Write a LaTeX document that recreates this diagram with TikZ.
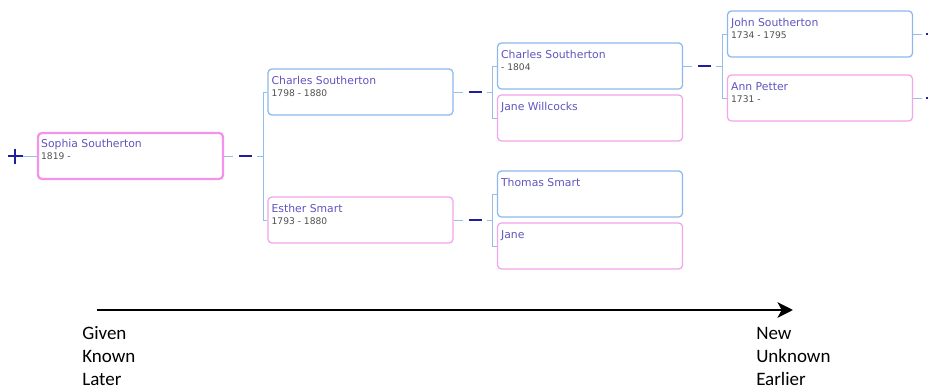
\documentclass[tikz,border=0pt]{standalone}
\usepackage{fontspec}
\setmainfont{DejaVu Sans}
\newfontfamily\labelfont{Carlito}
\usetikzlibrary{calc,arrows.meta}

\definecolor{boxblue}{RGB}{140,185,235}
\definecolor{boxpink}{RGB}{242,165,232}
\definecolor{linkblue}{RGB}{150,190,232}
\definecolor{barblue}{RGB}{30,30,160}
\definecolor{nameblue}{RGB}{95,85,190}
\definecolor{dategrey}{RGB}{80,80,80}

\tikzset{
  box/.style={draw, rounded corners=2.8pt, line width=0.9pt, fill=white,
    minimum width=4.625cm, minimum height=1.15cm, inner sep=0pt},
  male/.style={box, draw=boxblue},
  female/.style={box, draw=boxpink},
  nametext/.style={anchor=base west, inner sep=0pt, text=nameblue,
    font=\fontsize{7.7}{9}\selectfont},
  datetext/.style={anchor=base west, inner sep=0pt, text=dategrey,
    font=\fontsize{6.5}{8}\selectfont},
  link/.style={draw=linkblue, line width=0.7pt},
  bar/.style={draw=barblue, line width=2pt},
  axislabel/.style={anchor=base west, inner sep=0pt,
    font=\labelfont\fontsize{13.5}{16}\selectfont},
}

% id, style, x, y, name, dates
\newcommand\person[6]{%
  \node[#2] (#1) at (#3,#4) {};
  \node[nametext] (#1-n) at ($(#1.north west)+(4,16)$) {#5};
  \node[datetext] (#1-d) at ($(#1.north west)+(4,28)$) {#6};
}

\begin{document}
\begin{tikzpicture}[x=0.025cm, y=-0.025cm]
  \useasboundingbox (0,0) rectangle (928,388);

  % the tree
  \person{sophia}{female, line width=1.6pt, draw=boxpink!90!magenta}{130.5}{156}{Sophia Southerton}{1819 -}
  \person{charlesA}{male}{360.5}{92}{Charles Southerton}{1798 - 1880}
  \person{esther}{female}{360.5}{220}{Esther Smart}{1793 - 1880}
  \person{charlesB}{male}{590}{66}{Charles Southerton}{- 1804}
  \person{jane1}{female}{590}{118}{Jane Willcocks}{}
  \person{thomas}{male}{590}{194}{Thomas Smart}{}
  \person{jane2}{female}{590}{246}{Jane}{}
  \person{john}{male}{820}{34}{John Southerton}{1734 - 1795}
  \person{ann}{female}{820}{98}{Ann Petter}{1731 -}

  \foreach \c/\f/\m in {sophia/charlesA/esther, charlesA/charlesB/jane1,
                        esther/thomas/jane2, charlesB/john/ann} {
    \draw[link] (\c.east) -- ++(9,0);
    \draw[bar] ($(\c.east)+(15,0)$) -- ++(13,0);
    \draw[link] ($(\c.east)+(33,0)$) -- ++(6,0) coordinate (\c-fork);
    \draw[link] (\f.west) -| (\c-fork) |- (\m.west);
  }

  % cut off at the right edge
  \begin{scope}
    \clip (0,0) rectangle (928,388);
    \foreach \p in {john, ann} {
      \draw[link] (\p.east) -- ++(9,0);
      \draw[bar] ($(\p.east)+(13,0)$) -- ++(13,0);
    }
  \end{scope}

  % expand sign
  \coordinate (plus) at (15,156);
  \draw[bar] ($(plus)+(-7.5,0)$) -- ++(15,0);
  \draw[bar] ($(plus)+(0,-7.5)$) -- ++(0,15);
  \draw[link] ($(plus)+(8,0)$) -- (sophia.west);

  % time line
  \coordinate (tstart) at (97,310);
  \coordinate (tend) at (793,310);
  \draw[line width=2pt, -{Stealth[length=11pt, width=11pt, inset=3pt]}] (tstart) -- (tend);
  \foreach \w [count=\i] in {Given,Known,Later}
    \node[axislabel] (old\i) at (82,316+23*\i) {\w};
  \foreach \w [count=\i] in {New,Unknown,Earlier}
    \node[axislabel] (new\i) at (756,316+23*\i) {\w};
\end{tikzpicture}
\end{document}
